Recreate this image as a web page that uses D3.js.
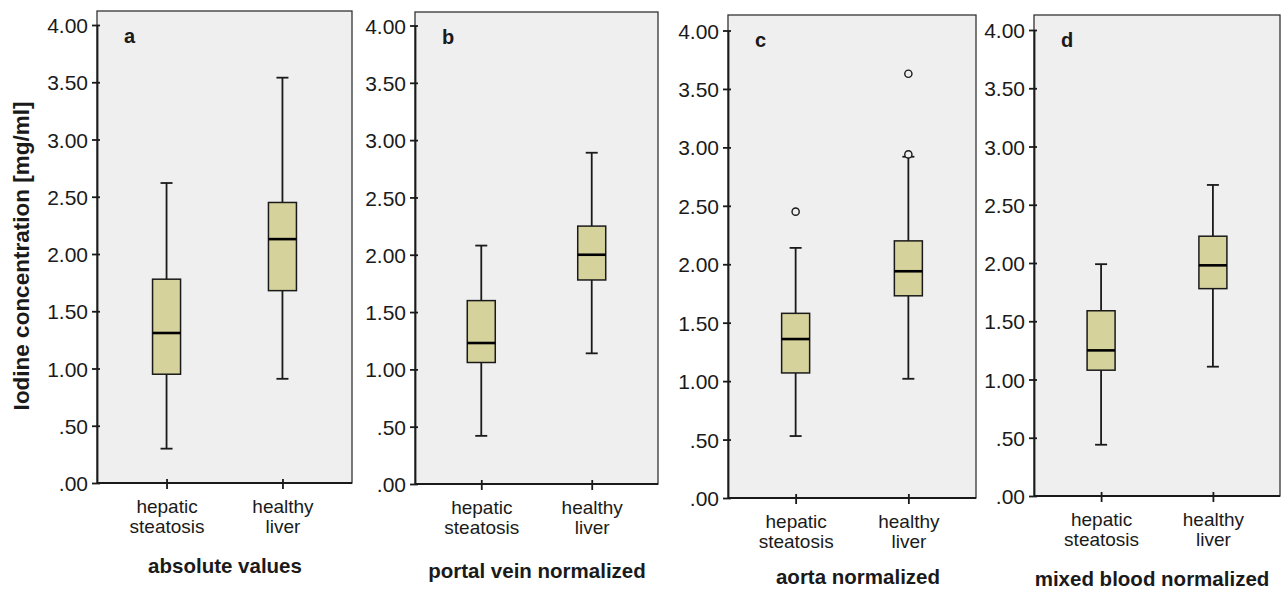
<!DOCTYPE html>
<html>
<head>
<meta charset="utf-8">
<script src="https://cdn.jsdelivr.net/npm/d3@7"></script>
<style>
	body { margin: 0; background: #fff; }
	svg { display: block; font-family: Arial, 'Liberation Sans', sans-serif; }
</style>
</head>
<body>
<div id="chart"></div>
<script>
// groups on the x axis of every panel
const groups = ['hepatic steatosis', 'healthy liver']
const groupLines = [['hepatic', 'steatosis'], ['healthy', 'liver']]

// one entry per panel
const panelLetters = ['a', 'b', 'c', 'd']
const panelTitles = ['absolute values', 'portal vein normalized', 'aorta normalized', 'mixed blood normalized']

// box plot stats, [hepatic steatosis, healthy liver] per panel
const whiskerLow  = [[0.30, 0.91], [0.42, 1.14], [0.53, 1.02], [0.44, 1.11]]
const q1          = [[0.95, 1.68], [1.06, 1.78], [1.07, 1.73], [1.08, 1.78]]
const medians     = [[1.31, 2.13], [1.23, 2.00], [1.36, 1.94], [1.25, 1.98]]
const q3          = [[1.78, 2.45], [1.60, 2.25], [1.58, 2.20], [1.59, 2.23]]
const whiskerHigh = [[2.62, 3.54], [2.08, 2.89], [2.14, 2.92], [1.99, 2.67]]
const outliers    = [[[], []], [[], []], [[2.45], [3.63, 2.94]], [[], []]]

const yTicks = [0, 0.5, 1, 1.5, 2, 2.5, 3, 3.5, 4]
const yLabel = 'Iodine concentration [mg/ml]'

const width = 1282
const height = 589

// frame of each panel: left, right, y of 0, y of 4, top, title position
const frames = [
	{ left: 97,   right: 352,  y0: 483, y4: 25,   top: 11, titleX: 225,  titleY: 573 },
	{ left: 415,  right: 658,  y0: 484, y4: 25.5, top: 12, titleX: 537,  titleY: 578 },
	{ left: 728,  right: 976,  y0: 498, y4: 30.5, top: 15, titleX: 858,  titleY: 584 },
	{ left: 1034, right: 1280, y0: 496, y4: 30,   top: 15, titleX: 1152, titleY: 586 },
]

const BG = '#efefef'
const BOX = '#d6d29b'
const INK = '#1a1a1a'

const svg = d3.select('#chart')
	.append('svg')
		.attr('width', width)
		.attr('height', height)

const fmt = v => d3.format('.2f')(v).replace(/^0/, '')

frames.forEach((f, p) => {
	const y = d3.scaleLinear().domain([0, 4]).range([f.y0, f.y4])
	const x = d3.scalePoint().domain(groups).range([f.left, f.right]).padding(0.6)
	const boxW = 28
	const capW = 12

	const g = svg.append('g')

	// plot area
	g.append('rect')
		.attr('x', f.left)
		.attr('y', f.top)
		.attr('width', f.right - f.left)
		.attr('height', f.y0 - f.top)
		.attr('fill', BG)
		.attr('stroke', '#333')
		.attr('stroke-width', 1.3)

	// y axis
	const yAxis = g.append('g')
		.attr('transform', `translate(${f.left},0)`)
		.call(d3.axisLeft(y).tickValues(yTicks).tickFormat(fmt).tickSizeOuter(0))
	yAxis.select('.domain').attr('stroke', INK).attr('stroke-width', 1.8)
	yAxis.selectAll('.tick line').attr('x1', -5).attr('x2', 3).attr('stroke', INK).attr('stroke-width', 1.8)
	yAxis.selectAll('.tick text')
		.attr('x', -9)
		.attr('dy', '0.36em')
		.attr('fill', INK)
		.style('font-size', '21px')

	// x axis
	const xAxis = g.append('g')
		.attr('transform', `translate(0,${f.y0})`)
		.call(d3.axisBottom(x).tickSizeOuter(0))
	xAxis.select('.domain').attr('d', `M${f.left},0H${f.right}`).attr('stroke', INK).attr('stroke-width', 1.8)
	xAxis.selectAll('.tick line').attr('y1', -4).attr('y2', 6).attr('stroke', INK).attr('stroke-width', 1.8)
	xAxis.selectAll('.tick text')
		.attr('y', 0)
		.attr('dy', null)
		.attr('fill', INK)
		.style('font-size', '19px')
		.text(null)
		.each(function(d, i) {
			d3.select(this).selectAll('tspan')
				.data(groupLines[i])
				.join('tspan')
					.attr('x', 0)
					.attr('y', (t, k) => 30 + k * 20)
					.text(t => t)
		})

	// whiskers, boxes, medians
	const stats = groups.map((name, i) => ({
		name,
		lo: whiskerLow[p][i],
		q1: q1[p][i],
		med: medians[p][i],
		q3: q3[p][i],
		hi: whiskerHigh[p][i],
		out: outliers[p][i],
	}))

	const box = g.selectAll('.box')
		.data(stats)
		.join('g')
			.attr('class', 'box')
			.attr('transform', d => `translate(${x(d.name)},0)`)

	box.append('line')
		.attr('y1', d => y(d.lo))
		.attr('y2', d => y(d.hi))
		.attr('stroke', INK)
		.attr('stroke-width', 1.8)
	box.selectAll('.cap')
		.data(d => [d.lo, d.hi])
		.join('line')
			.attr('class', 'cap')
			.attr('x1', -capW / 2)
			.attr('x2', capW / 2)
			.attr('y1', v => y(v))
			.attr('y2', v => y(v))
			.attr('stroke', INK)
			.attr('stroke-width', 1.8)
	box.append('rect')
		.attr('x', -boxW / 2)
		.attr('width', boxW)
		.attr('y', d => y(d.q3))
		.attr('height', d => y(d.q1) - y(d.q3))
		.attr('fill', BOX)
		.attr('stroke', INK)
		.attr('stroke-width', 1.5)
	box.append('line')
		.attr('x1', -boxW / 2)
		.attr('x2', boxW / 2)
		.attr('y1', d => y(d.med))
		.attr('y2', d => y(d.med))
		.attr('stroke', '#000')
		.attr('stroke-width', 2.6)
	box.selectAll('.outlier')
		.data(d => d.out)
		.join('circle')
			.attr('class', 'outlier')
			.attr('cy', v => y(v))
			.attr('r', 3.6)
			.attr('fill', BG)
			.attr('stroke', INK)
			.attr('stroke-width', 1.4)

	// panel letter
	g.append('text')
		.attr('x', f.left + 27)
		.attr('y', f.top + 32)
		.attr('fill', INK)
		.style('font-size', '20px')
		.style('font-weight', 'bold')
		.text(panelLetters[p])

	// x title
	g.append('text')
		.attr('x', f.titleX)
		.attr('y', f.titleY)
		.attr('text-anchor', 'middle')
		.attr('fill', INK)
		.style('font-size', '20.5px')
		.style('font-weight', 'bold')
		.text(panelTitles[p])
})

// shared y title
svg.append('text')
	.attr('transform', 'translate(29,256) rotate(-90)')
	.attr('text-anchor', 'middle')
	.attr('fill', INK)
	.style('font-size', '22.5px')
	.style('font-weight', 'bold')
	.text(yLabel)
</script>
</body>
</html>
